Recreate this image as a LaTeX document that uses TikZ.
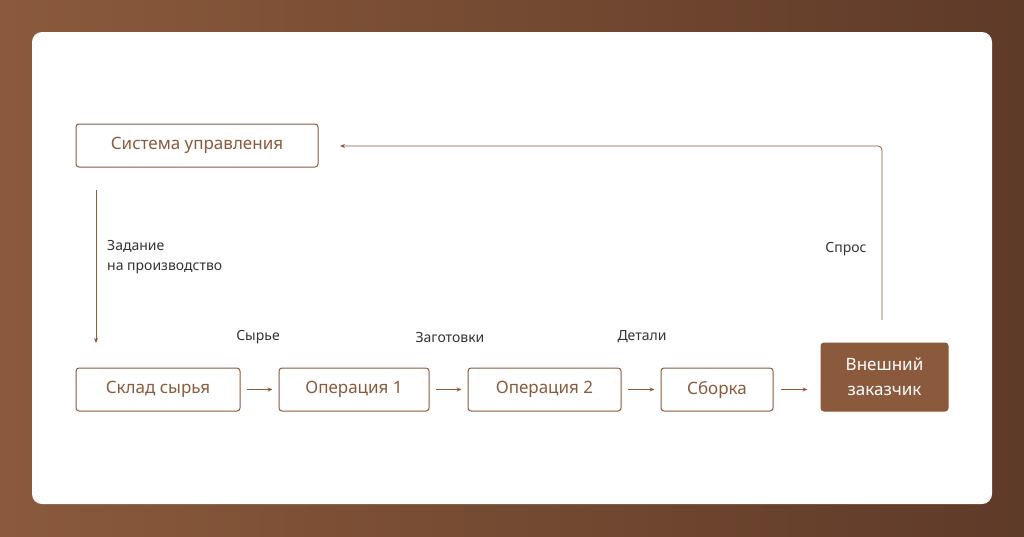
\documentclass[tikz,border=0pt]{standalone}
\usepackage{fontspec}
\setmainfont{Noto Sans}
\usetikzlibrary{arrows.meta}
\definecolor{brn}{HTML}{8B5A3C}
\definecolor{brnd}{HTML}{5E3A28}
\definecolor{txt}{HTML}{333333}
\begin{document}
\begin{tikzpicture}[x=1pt,y=-1pt,
  box/.style={draw=brn,line width=1pt,rounded corners=3pt,text=brn,font=\fontsize{17}{20}\selectfont,inner sep=0pt},
  lab/.style={text=txt,font=\fontsize{14}{18}\selectfont,inner sep=0pt},
  arr/.style={draw=brn,line width=0.8pt,-{Stealth[length=5pt,width=4pt]}}]
\shade[left color=brn,right color=brnd] (0,0) rectangle (1024,536);
\useasboundingbox (0,0) rectangle (1024,536);
\fill[white,rounded corners=10pt] (32,32) rectangle (992,504);
\node[box,minimum width=242pt,minimum height=43pt] (sys) at (197,145.5) {Система управления};
\node[box,minimum width=164pt,minimum height=43pt] (sk) at (158,389.5) {Склад сырья};
\node[box,minimum width=150pt,minimum height=43pt] (o1) at (354,389.5) {Операция 1};
\node[box,minimum width=153pt,minimum height=43pt] (o2) at (544.5,389.5) {Операция 2};
\node[box,minimum width=112pt,minimum height=43pt] (sb) at (717,389.5) {Сборка};
\node[box,fill=brn,text=white,minimum width=127pt,minimum height=68pt,align=center,font=\fontsize{17}{25}\selectfont] (cu) at (884.5,377) {Внешний\\заказчик};
\coordinate (d1) at (96,190);
\coordinate (d2) at (96,343);
\draw[arr] (d1) -- (d2);
\node[lab,anchor=north west,align=left,font=\fontsize{14}{20}\selectfont] (zad) at (107,240) {Задание\\на производство};
\draw[arr] ([xshift=6pt]sk.east) -- ([xshift=-6pt]o1.west);
\draw[arr] ([xshift=6pt]o1.east) -- ([xshift=-6pt]o2.west);
\draw[arr] ([xshift=6pt]o2.east) -- ([xshift=-6pt]sb.west);
\draw[arr] ([xshift=7pt]sb.east) -- ([xshift=-13pt]cu.west |- sb.east);
\coordinate (f1) at (882,320);
\coordinate (f2) at (340,146);
\draw[arr,rounded corners=4pt] (f1) -- (882,146) -- (f2);
\node[lab] (l1) at (258,337) {Сырье};
\node[lab] (l2) at (450,337) {Заготовки};
\node[lab] (l3) at (642,337) {Детали};
\node[lab] (l4) at (846,249) {Спрос};
\end{tikzpicture}
\end{document}
